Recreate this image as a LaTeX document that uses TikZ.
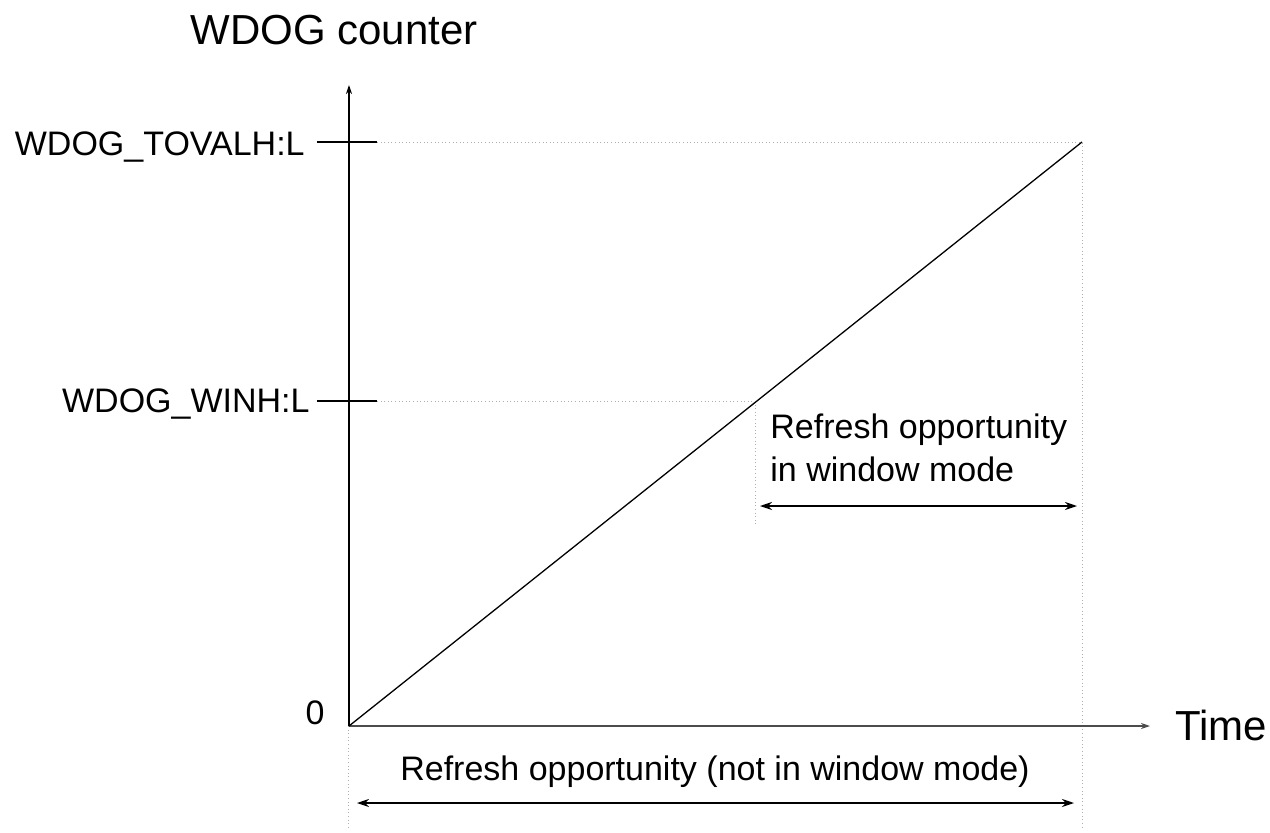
\documentclass[tikz,border=0pt]{standalone}
\usepackage{fontspec}
\setmainfont{Liberation Sans}
\usetikzlibrary{arrows.meta}
\newcommand{\TX}{733}
\newcommand{\TY}{584}
\newcommand{\WX}{406}
\newcommand{\WY}{325}
\definecolor{wdguide}{RGB}{175,175,175}

\begin{document}
\begin{tikzpicture}[
    x=0.5pt, y=0.5pt,
    axis/.style={line width=0.65pt, -{Stealth[length=4.5pt,width=3pt]}},
    span/.style={line width=0.65pt, {Stealth[length=6pt,width=4pt]}-{Stealth[length=6pt,width=4pt]}},
    guide/.style={draw=wdguide, line width=0.5pt, dash pattern=on 0.5pt off 1.3pt},
    tick/.style={line width=0.65pt},
    lbl/.style={inner sep=0pt, font=\fontsize{17}{21.5}\selectfont},
    big/.style={inner sep=0pt, font=\fontsize{21}{25}\selectfont},
  ]
  \useasboundingbox (-349,-106) rectangle (921,726);

  \coordinate (O)    at (0,0);
  \coordinate (ytip) at (0,641);
  \coordinate (xtip) at (801,0);
  \coordinate (tovL) at (-32,\TY);
  \coordinate (tovR) at (28,\TY);
  \coordinate (winL) at (-32,\WY);
  \coordinate (winR) at (28,\WY);
  \coordinate (tovE) at (\TX,\TY);
  \coordinate (winE) at (\WX,\WY);
  \coordinate (winB) at (\WX,201);
  \coordinate (botL) at (0,-101);
  \coordinate (botR) at (\TX,-101);
  \coordinate (wa1)  at (\WX,220);
  \coordinate (wa2)  at (\TX,220);
  \coordinate (ba1)  at (0,-77);
  \coordinate (ba2)  at (\TX,-77);

  % guide lines
  \draw[guide] (tovR) -- (tovE) -- (botR);
  \draw[guide] (winR) -- (winE) -- (winB);
  \draw[guide] (O) -- (botL);

  % axes and levels
  \draw[axis] (O) -- (ytip);
  \draw[axis, black!70, line width=0.85pt] (O) -- (xtip);
  \draw[tick] (tovL) -- (tovR);
  \draw[tick] (winL) -- (winR);

  % counter ramp
  \draw[line width=0.65pt] (O) -- (tovE);

  \draw[span, shorten <=2.5pt, shorten >=2.5pt] (wa1) -- (wa2);
  \draw[span, shorten <=4pt, shorten >=4pt] (ba1) -- (ba2);

  \node[big, anchor=base west] (title) at (-159,681) {WDOG counter};
  \node[big, anchor=base west] (time)  at (826,-14)  {Time};
  \node[lbl, anchor=base east] (zero)  at (-24,2)    {0};
  \node[lbl, anchor=base east] (tovlbl) at (-44,571) {WDOG\_TOVALH:L};
  \node[lbl, anchor=base east] (winlbl) at (-39,314) {WDOG\_WINH:L};
  \node[lbl, anchor=north west, align=left] (wintxt) at (421,313)
    {Refresh opportunity\\in window mode};
  \node[lbl, anchor=base] (bottxt) at (366,-54)
    {Refresh opportunity (not in window mode)};

\end{tikzpicture}
\end{document}
